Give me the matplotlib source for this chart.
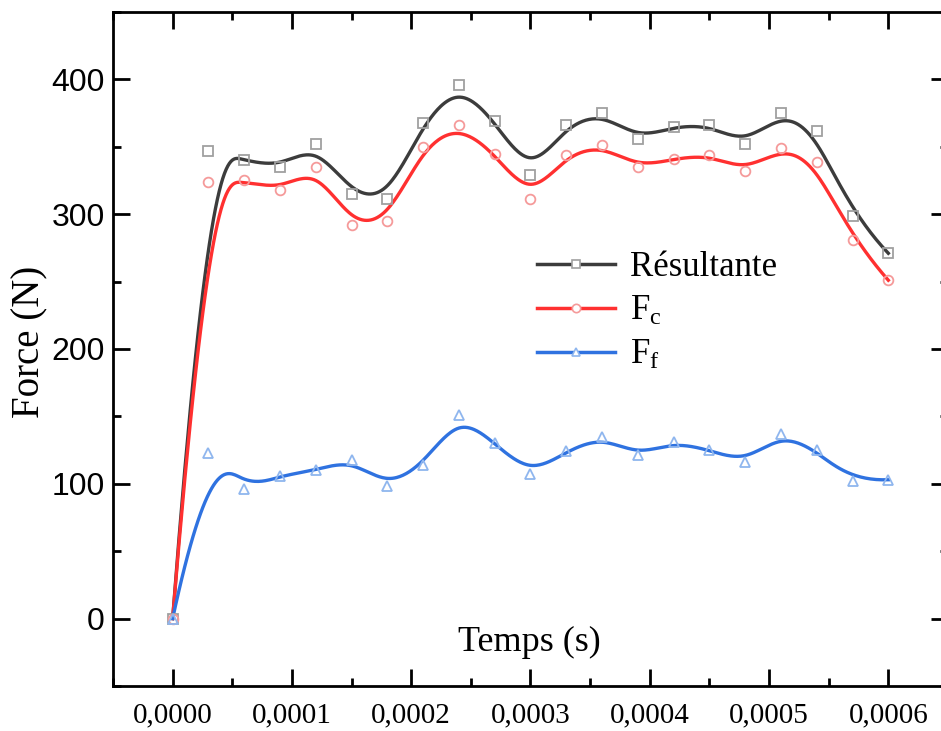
import numpy as np
import matplotlib.pyplot as plt
from matplotlib.lines import Line2D
from matplotlib.ticker import MultipleLocator, FuncFormatter

plt.rcParams['mathtext.fontset'] = 'custom'
plt.rcParams['mathtext.rm'] = 'Liberation Serif'
plt.rcParams['mathtext.it'] = 'Liberation Serif'

# Données
temps = [0.0, 0.00003, 0.00006, 0.00009, 0.00012, 0.00015, 0.00018, 0.00021,
         0.00024, 0.00027, 0.00030, 0.00033, 0.00036, 0.00039, 0.00042,
         0.00045, 0.00048, 0.00051, 0.00054, 0.00057, 0.00060]
resultante = [0, 347, 340, 335, 352, 315, 311, 368, 396, 369, 329, 366, 375,
              356, 365, 366, 352, 375, 362, 299, 271]
f_c = [0, 324, 325, 318, 335, 292, 295, 350, 366, 345, 311, 344, 351, 335,
       341, 344, 332, 349, 339, 281, 251]
f_f = [0, 123, 96, 106, 110, 118, 98, 114, 151, 130, 107, 124, 135, 121, 131,
       125, 116, 137, 125, 102, 103]


# B-spline cubique (points de contrôle = points de mesure), comme Origin
def bspline(xs, ys, npts=600):
    P = np.column_stack([xs, ys]).astype(float)
    n = len(P)
    k = 3
    knots = np.concatenate([np.zeros(k), np.arange(n - k + 1), np.full(k, n - k)]).astype(float)
    t = np.linspace(0, n - k, npts)
    t[-1] -= 1e-9
    # Cox-de Boor
    B = np.zeros((npts, len(knots) - 1))
    for i in range(len(knots) - 1):
        B[:, i] = (t >= knots[i]) & (t < knots[i + 1])
    for d in range(1, k + 1):
        Bn = np.zeros((npts, len(knots) - 1 - d))
        for i in range(len(knots) - 1 - d):
            a = knots[i + d] - knots[i]
            b = knots[i + d + 1] - knots[i + 1]
            term = 0
            if a > 0:
                term = term + (t - knots[i]) / a * B[:, i]
            if b > 0:
                term = term + (knots[i + d + 1] - t) / b * B[:, i + 1]
            Bn[:, i] = term
        B = Bn
    C = B @ P
    return C[:, 0], C[:, 1]


fig = plt.figure(figsize=(9.41, 7.31), dpi=100)
ax = fig.add_axes([0.1201, 0.0616, 0.8873, 0.922])

series = [
    (resultante, '#3c3c3c', '#a0a0a0', 's', 'Résultante'),
    (f_c, '#ff3030', '#f59a9a', 'o', r'F$_\mathrm{c}$'),
    (f_f, '#2f72e0', '#8fb6ee', '^', r'F$_\mathrm{f}$'),
]

handles = []
for ys, lc, mc, mk, lab in series:
    bx, by = bspline(temps, ys)
    ax.plot(bx, by, color=lc, lw=2.4, zorder=3)
    ax.plot(temps, ys, ls='none', marker=mk, ms=7, mfc='none', mec=mc,
            mew=1.3, zorder=4)
    handles.append(Line2D([], [], color=lc, lw=2.5, marker=mk, ms=6,
                          mfc='white', mec=mc, mew=1.2, label=lab))

ax.set_xlim(-0.00005, 0.00065)
ax.set_ylim(-50, 450)

ax.xaxis.set_major_locator(MultipleLocator(0.0001))
ax.xaxis.set_minor_locator(MultipleLocator(0.00005))
ax.yaxis.set_major_locator(MultipleLocator(100))
ax.yaxis.set_minor_locator(MultipleLocator(50))
ax.xaxis.set_major_formatter(FuncFormatter(lambda v, p: f'{v:.4f}'.replace('.', ',').replace('-', '')))

ax.tick_params(which='both', direction='in', top=True, right=True, width=2)
ax.tick_params(which='major', length=12)
ax.tick_params(which='minor', length=6)
ax.tick_params(axis='x', which='major', pad=12)
ax.tick_params(axis='y', which='major', pad=6)
for lb in ax.get_xticklabels():
    lb.set_fontfamily('Liberation Serif')
    lb.set_fontsize(21)
for lb in ax.get_yticklabels():
    lb.set_fontfamily('Liberation Sans')
    lb.set_fontsize(23)
for s in ax.spines.values():
    s.set_linewidth(2)

ax.set_ylabel('Force (N)', fontfamily='Liberation Serif', fontsize=28)
ax.yaxis.set_label_coords(-0.1, 0.51)
ax.yaxis.label.set_va('center')
ax.set_xlabel('Temps (s)', fontfamily='Liberation Serif', fontsize=26)
ax.xaxis.set_label_coords(0.499, 0.064)
ax.xaxis.label.set_va('center')

leg = ax.legend(handles=handles, loc='upper left', bbox_to_anchor=(0.4705, 0.692),
                frameon=False, handlelength=2.25, handletextpad=0.43,
                labelspacing=0.32, borderpad=0.4,
                prop={'family': 'Liberation Serif', 'size': 25})

fig.savefig('out.png', dpi=100)
